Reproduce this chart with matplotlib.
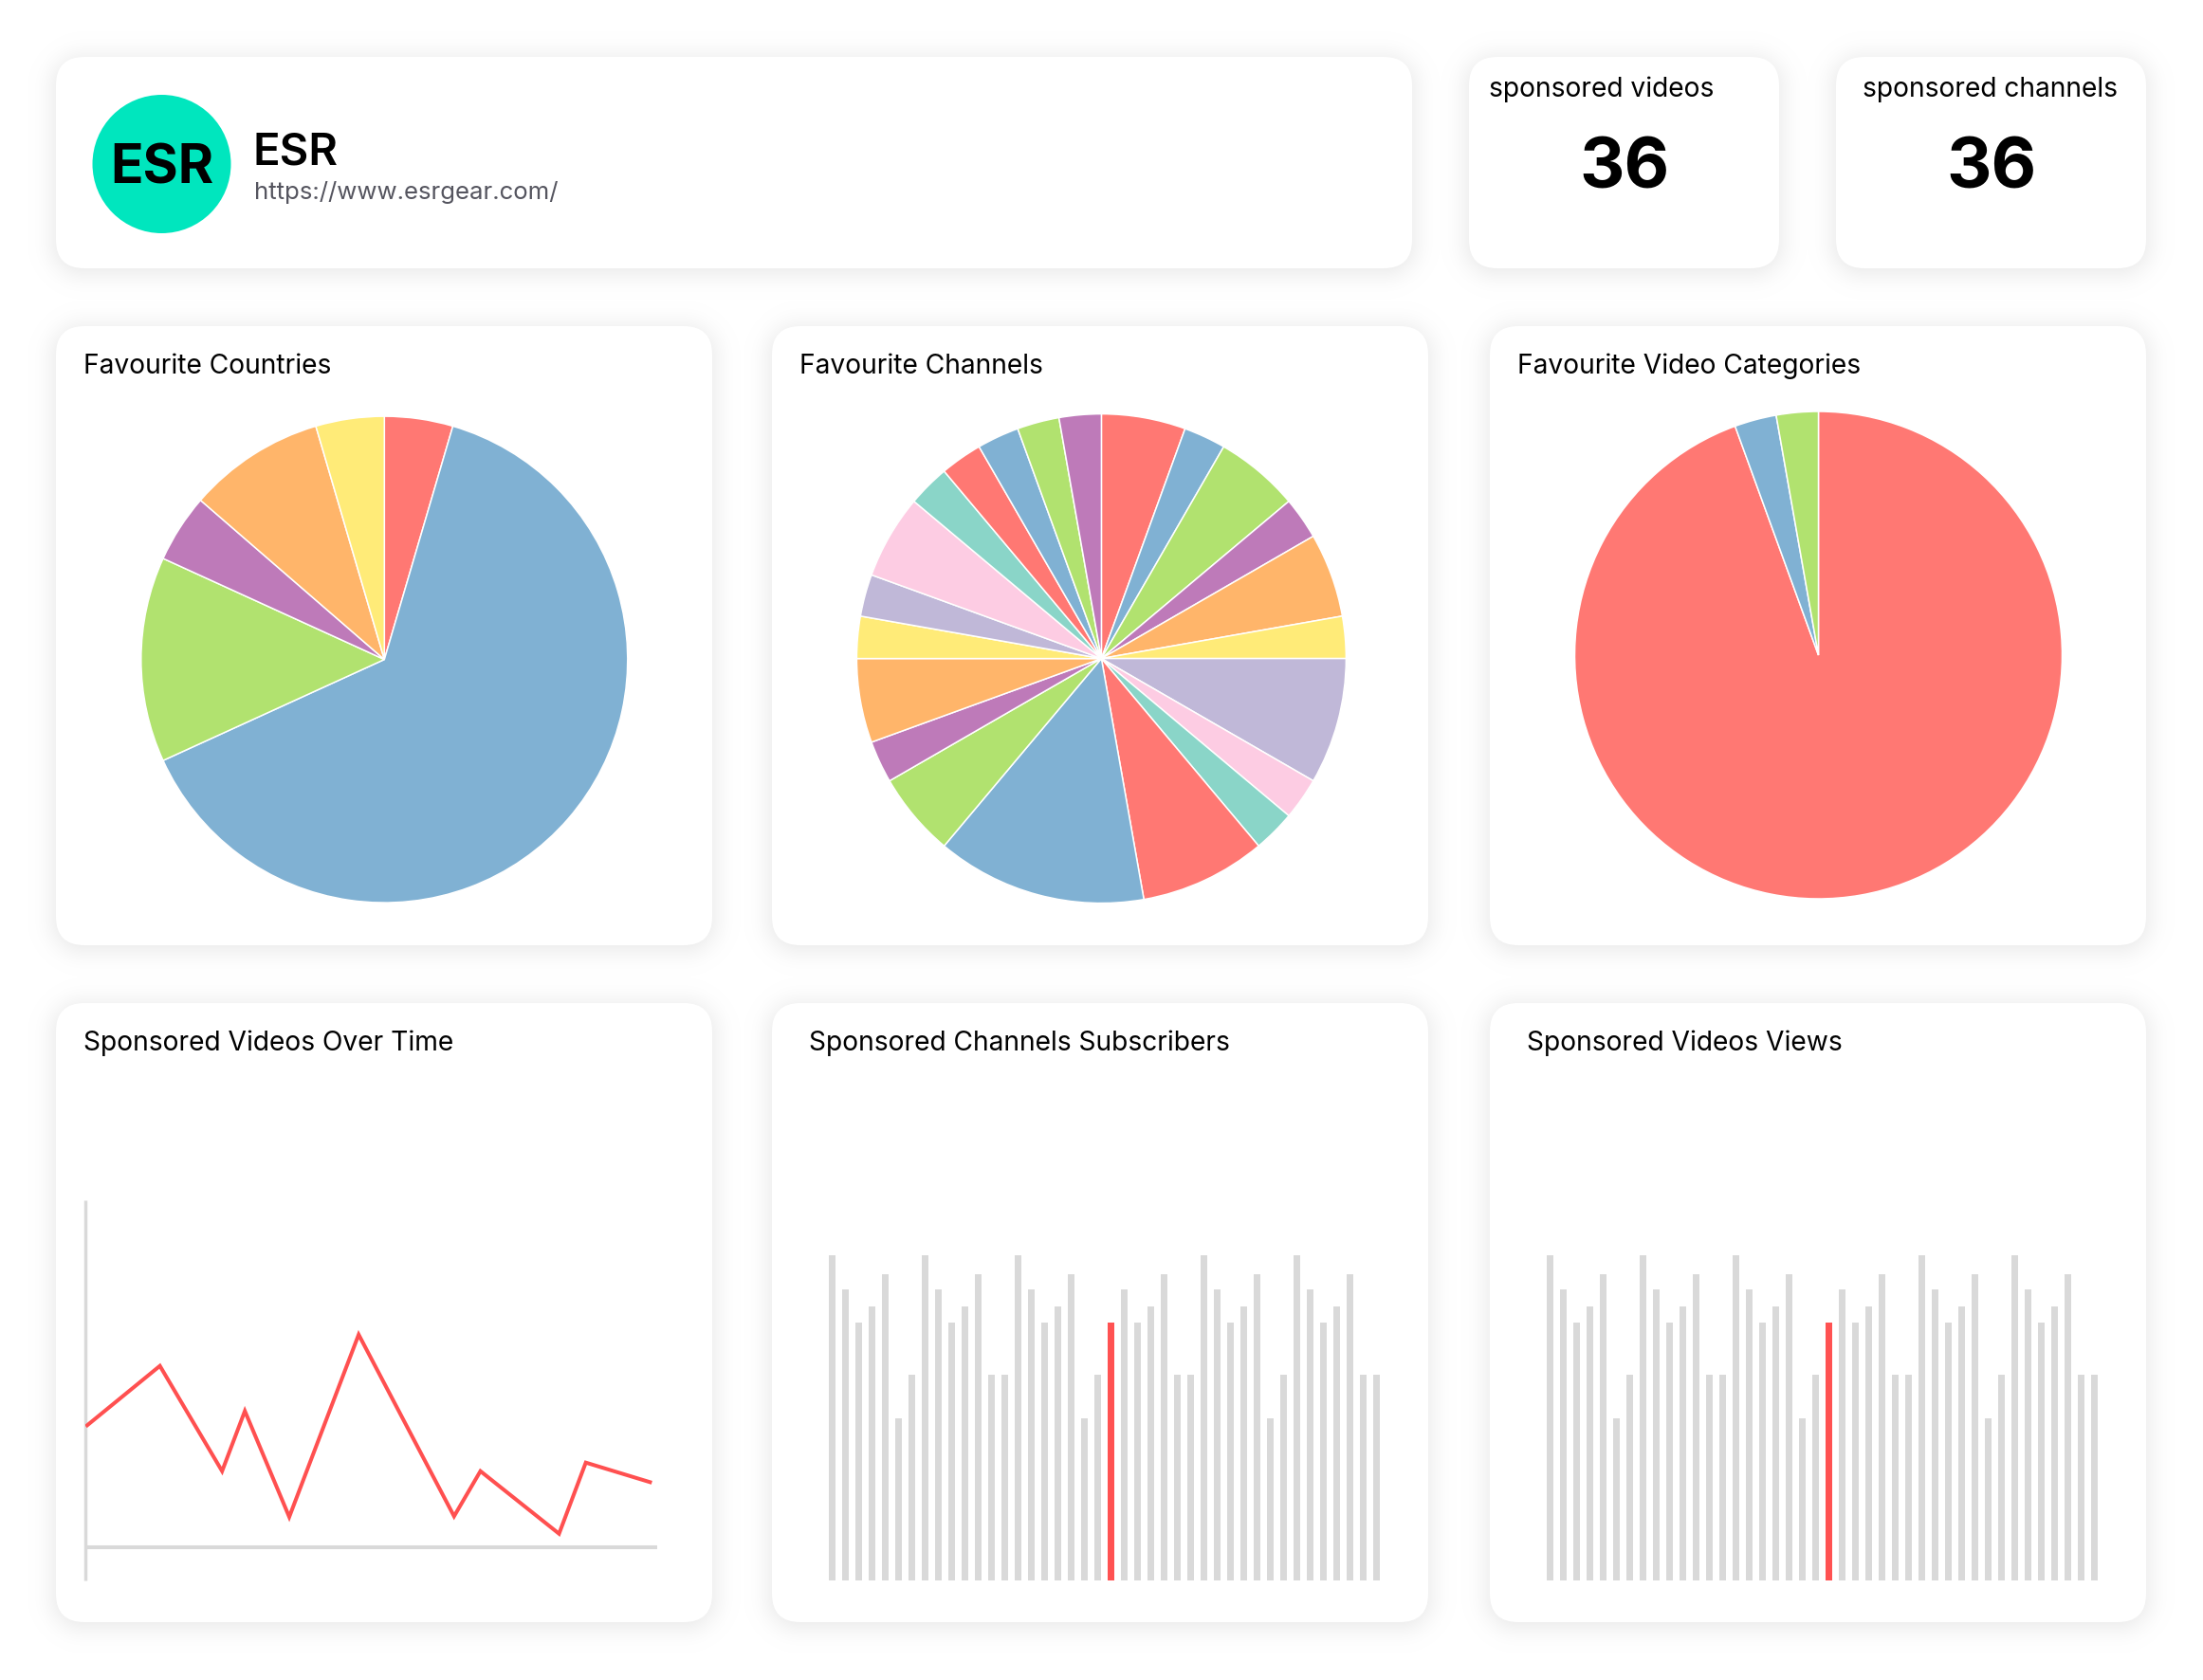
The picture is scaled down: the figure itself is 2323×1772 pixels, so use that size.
import numpy as np
import matplotlib
matplotlib.use("Agg")
import matplotlib.pyplot as plt
from matplotlib.patches import FancyBboxPatch, Circle

W, H = 2323, 1772
plt.rcParams['font.family'] = ['Inter', 'DejaVu Sans']

# ---- data ----
brand_name = "ESR"
brand_url = "https://www.esrgear.com/"
kpi_labels = ["sponsored videos", "sponsored channels"]
kpi_values = ["36", "36"]
pie_titles = ["Favourite Countries", "Favourite Channels", "Favourite Video Categories"]
countries = [1, 14, 3, 1, 2, 1]
channels = [2, 1, 2, 1, 2, 1, 3, 1, 1, 3, 5, 2, 1, 2, 1, 1, 2, 1, 1, 1, 1, 1]
categories = [34, 1, 1]
palette = ["#FF7873", "#80B1D3", "#B1E26F", "#BE7AB9", "#FFB56A", "#FFEB78",
           "#C0B8D8", "#FDCCE3", "#8AD5C8"]
line_title = "Sponsored Videos Over Time"
line_x = [2, 78.6, 144.2, 168.2, 215, 288.2, 388.8, 416.6, 499.5, 527.7, 595.4]
line_y = [128.7, 191.3, 80.3, 143.7, 32, 224.3, 32.7, 80.3, 14.3, 89.3, 68.7]
bar_titles = ["Sponsored Channels Subscribers", "Sponsored Videos Views"]
bar_heights = [343, 307, 272, 289, 323, 171, 217,
               343, 307, 272, 289, 323, 217, 217,
               343, 307, 272, 289, 323, 171, 217,
               272, 307, 272, 289, 323, 217, 217,
               343, 307, 272, 289, 323, 171, 217,
               343, 307, 272, 289, 323, 217, 217]
highlight_index = 21

# ---- layout (pixels) ----
cards = [(59, 60, 1489, 283), (1549, 60, 1876, 283), (1936, 60, 2263, 283),
         (59, 344, 751, 997), (814, 344, 1506, 997), (1571, 344, 2263, 997),
         (59, 1058, 751, 1711), (814, 1058, 1506, 1711), (1571, 1058, 2263, 1711)]
RADIUS = 30
TITLE_SIZE = 20.3

fig = plt.figure(figsize=(W / 100, H / 100), dpi=100, facecolor="white")
bg = fig.add_axes([0, 0, 1, 1])
bg.set_xlim(0, W)
bg.set_ylim(H, 0)
bg.axis("off")

def px_axes(x0, y0, x1, y1):
    return fig.add_axes([x0 / W, 1 - y1 / H, (x1 - x0) / W, (y1 - y0) / H])

# soft shadows
yy, xx = np.mgrid[0:H, 0:W]
shade = np.zeros((H, W))
for (x0, y0, x1, y1) in cards:
    cx, cy = (x0 + x1) / 2, (y0 + y1) / 2 + 3
    qx = np.abs(xx + .5 - cx) - ((x1 - x0) / 2 - RADIUS)
    qy = np.abs(yy + .5 - cy) - ((y1 - y0) / 2 - RADIUS)
    d = np.hypot(np.maximum(qx, 0), np.maximum(qy, 0)) + np.minimum(np.maximum(qx, qy), 0) - RADIUS
    t = np.clip(1 - (d + 6) / 36, 0, 1)
    shade = np.maximum(shade, t * t * 0.075)
rgb = np.dstack([1 - shade] * 3)
bg.imshow(rgb, extent=(0, W, H, 0), aspect="auto", interpolation="nearest", zorder=0)
bg.set_xlim(0, W)
bg.set_ylim(H, 0)

for (x0, y0, x1, y1) in cards:
    bg.add_patch(FancyBboxPatch((x0, y0), x1 - x0, y1 - y0,
                                boxstyle=f"round,pad=0,rounding_size={RADIUS}",
                                fc="white", ec="none", zorder=1))

# header
bg.add_patch(Circle((170.5, 173), 73, fc="#00E6BE", ec="none", zorder=2))
bg.text(170.5, 193, brand_name, fontsize=41, fontweight="bold", color="black",
        ha="center", va="baseline", zorder=3)
bg.text(267, 173, brand_name, fontsize=34, fontweight="semibold", color="black",
        ha="left", va="baseline", zorder=3)
bg.text(268, 210, brand_url, fontsize=18.6, color="#55555F", ha="left", va="baseline", zorder=3)

bg.text(1570, 102, kpi_labels[0], fontsize=TITLE_SIZE, color="black",
        ha="left", va="baseline", zorder=3)
bg.text(1964, 102, kpi_labels[1], fontsize=TITLE_SIZE, color="black",
        ha="left", va="baseline", zorder=3)
bg.text(1713, 198, kpi_values[0], fontsize=53, fontweight="bold", color="black",
        ha="center", va="baseline", zorder=3)
bg.text(2100, 198, kpi_values[1], fontsize=53, fontweight="bold", color="black",
        ha="center", va="baseline", zorder=3)

# pies
pie_specs = [(countries, 405.3, 695.6, 256.5, 88.5, pie_titles[0]),
             (channels, 1161.4, 694.6, 258, 843, pie_titles[1]),
             (categories, 1917.5, 691.0, 257, 1600.5, pie_titles[2])]
for vals, cx, cy, r, tx, title in pie_specs:
    ax = px_axes(cx - r, cy - r, cx + r, cy + r)
    cols = [palette[i % len(palette)] for i in range(len(vals))]
    ax.pie(vals, colors=cols, startangle=90, counterclock=False, radius=1,
           wedgeprops=dict(edgecolor="white", linewidth=1.1))
    ax.set_xlim(-1, 1)
    ax.set_ylim(-1, 1)
    ax.set_aspect("auto")
    ax.patch.set_alpha(0)
    bg.text(tx, 394, title, fontsize=TITLE_SIZE, color="black",
            ha="left", va="baseline", zorder=3)

# line chart
la = px_axes(90, 1266, 693, 1667)
la.patch.set_alpha(0)
la.plot(line_x, line_y, color="#FF5050", lw=2.9, solid_joinstyle="miter", zorder=3)
la.set_xlim(0, 603)
la.set_ylim(-35, 366)
la.set_xticks([])
la.set_yticks([])
for s in ("top", "right"):
    la.spines[s].set_visible(False)
la.spines["left"].set_color("#D9D9D9")
la.spines["left"].set_linewidth(2.5)
la.spines["left"].set_capstyle("butt")
la.spines["bottom"].set_color("#D9D9D9")
la.spines["bottom"].set_linewidth(2.9)
la.spines["bottom"].set_capstyle("butt")
la.spines["bottom"].set_position(("data", 0))
bg.text(88.5, 1108, line_title, fontsize=TITLE_SIZE, color="black",
        ha="left", va="baseline", zorder=3)

# bar charts
bar_specs = [(877.2, 853, bar_titles[0]), (1634, 1610.5, bar_titles[1])]
for first, tx, title in bar_specs:
    ba = px_axes(first - 14, 1324, first + 14 * 42, 1667)
    ba.patch.set_alpha(0)
    cols = ["#FF5252" if i == highlight_index else "#D9D9D9" for i in range(len(bar_heights))]
    ba.bar(range(len(bar_heights)), bar_heights, width=0.5, color=cols)
    ba.set_xlim(-1, 42)
    ba.set_ylim(0, 343)
    ba.axis("off")
    bg.text(tx, 1108, title, fontsize=TITLE_SIZE, color="black",
            ha="left", va="baseline", zorder=3)

fig.savefig("out.png", dpi=100, facecolor="white")
